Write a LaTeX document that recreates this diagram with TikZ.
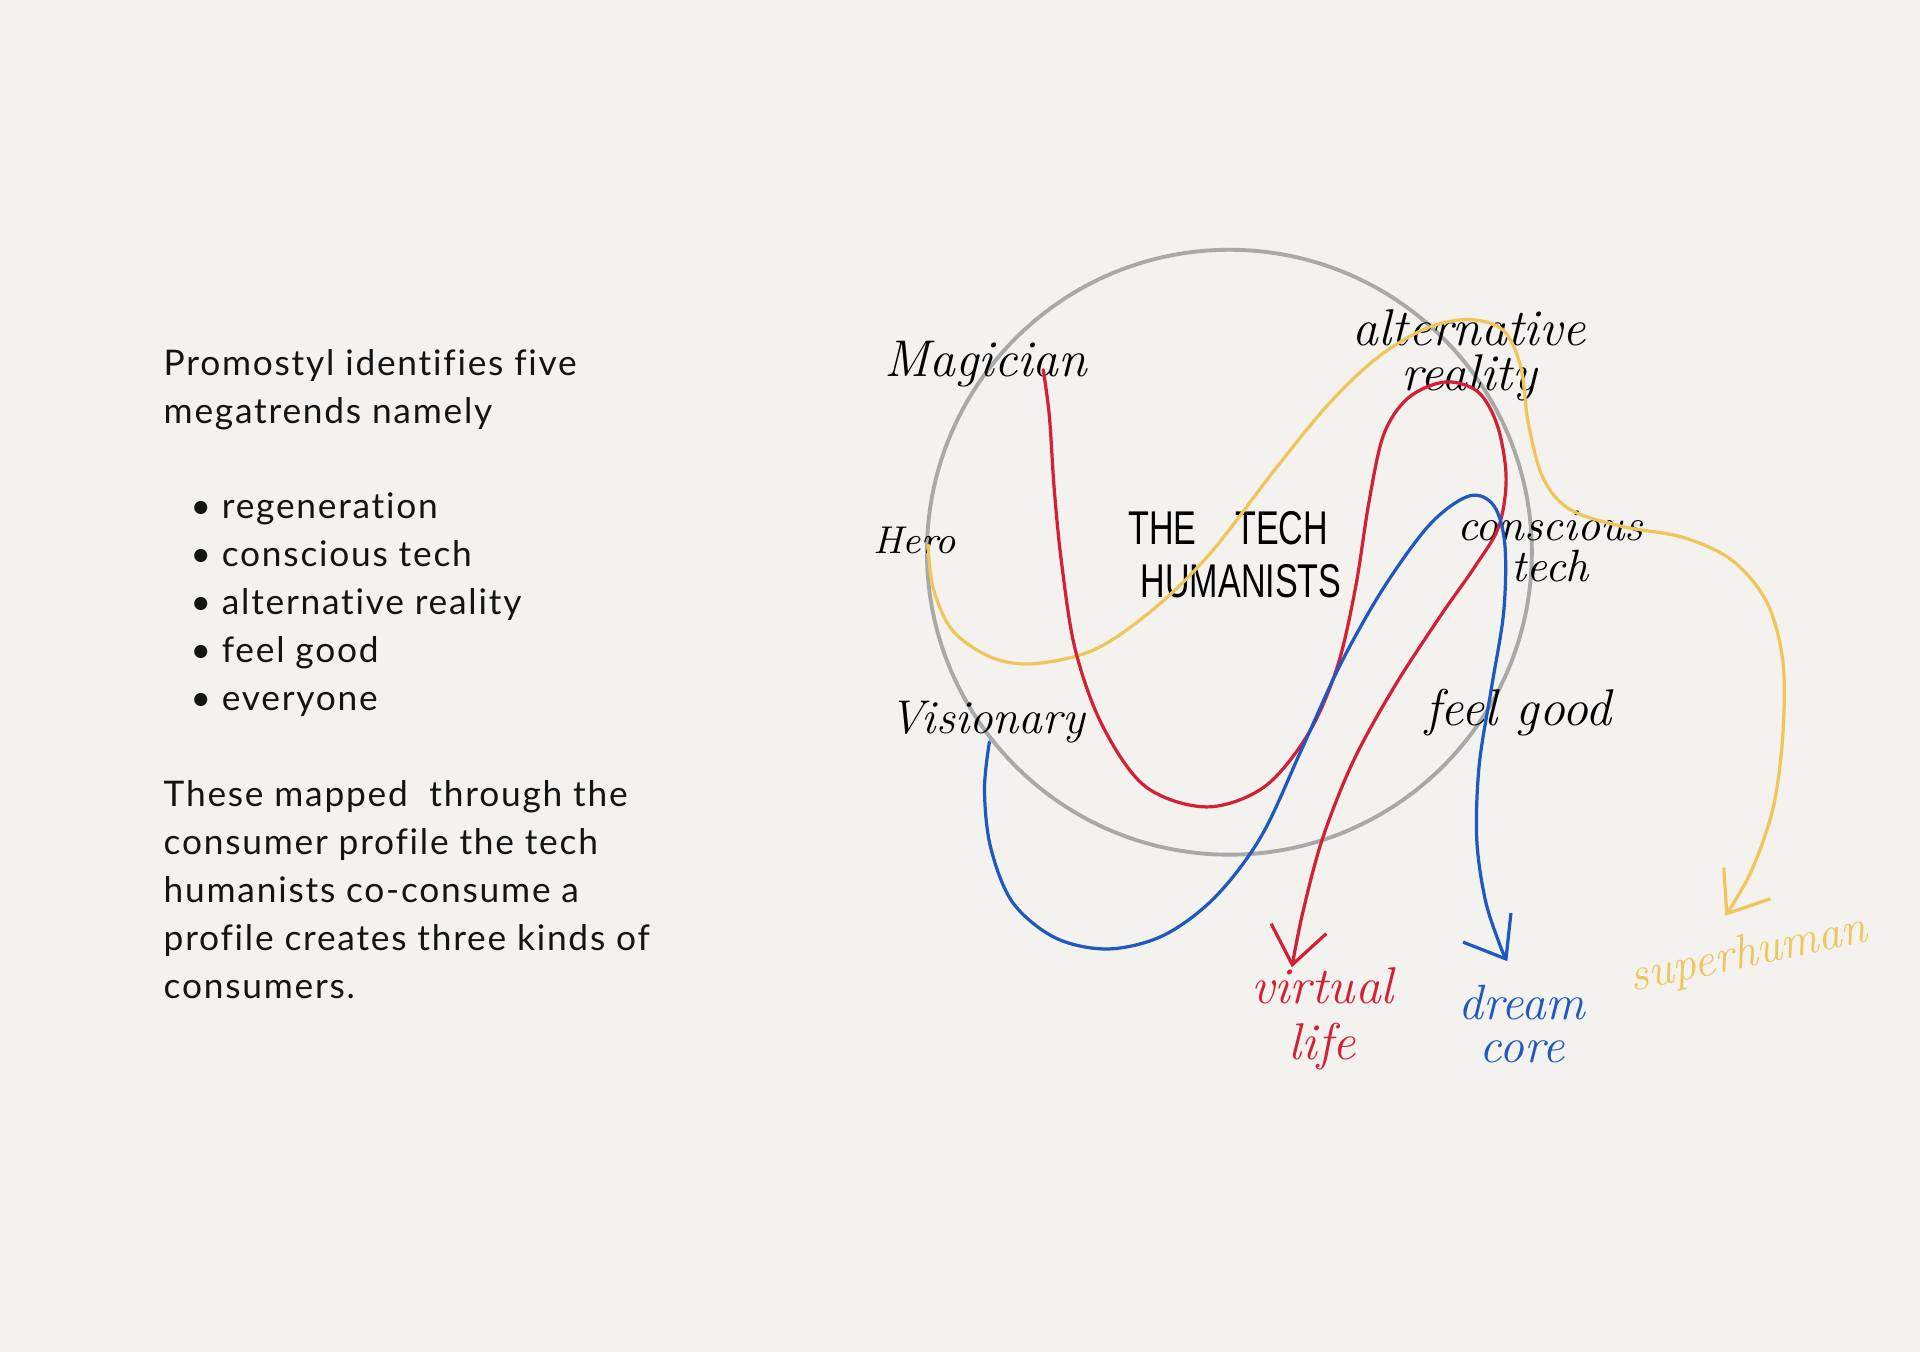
\documentclass[tikz,border=0pt]{standalone}
\usepackage{fontspec}
\newfontfamily\bodyfont[LetterSpace=5, Ligatures=NoCommon]{Lato}
\newfontfamily\capsfont[FakeStretch=0.72]{Liberation Sans}
\usepackage{xcolor}
\usetikzlibrary{arrows.meta, positioning}

\definecolor{paper}{HTML}{F3F2EE}
\definecolor{ringgray}{HTML}{A9A9A7}
\definecolor{pinred}{HTML}{D42036}
\definecolor{inkblue}{HTML}{1F58BE}
\definecolor{mustard}{HTML}{F0C65A}

\begin{document}
\begin{tikzpicture}[
  x=0.01cm, y=-0.01cm,
  body/.style={anchor=north west, align=left, inner sep=0pt, text=black!92, font=\bodyfont\fontsize{8.2}{11.1}\selectfont},
  hand/.style={inner sep=0pt, align=center, font=\itshape\fontsize{12}{10.5}\selectfont},
  caps/.style={inner sep=0pt, align=center, font=\capsfont\fontsize{11}{12.3}\selectfont},
  ring/.style={draw=ringgray, line width=0.9pt},
  stroke/.style={line width=0.75pt, line cap=round},
  tip/.style={-{Straight Barb[length=8.5pt, width=13pt]}}
]
  \fill[paper] (0,0) rectangle (1568,1104);
  \useasboundingbox (0,0) rectangle (1568,1104);

  % left text
  \node[body] (intro) at (133,285) {Promostyl identifies five\\megatrends namely};
  \node[body] (trends) at (155,402) {\textbullet\hspace{2.5pt}regeneration\\\textbullet\hspace{2.5pt}conscious tech\\\textbullet\hspace{2.5pt}alternative reality\\\textbullet\hspace{2.5pt}feel good\\\textbullet\hspace{2.5pt}everyone};
  \node[body] (mapped) at (133,637) {These mapped~ through the\\consumer profile the tech\\humanists co-consume a\\profile creates three kinds of\\consumers.};

  % the ring
  \draw[ring] (1004,451) circle (247);

  % labels round the ring
  \node[hand] (magician) at (805,297) {Magician};
  \node[hand] (altreal) at (1200,290) {alternative\\reality};
  \node[hand, font=\itshape\fontsize{9}{10}\selectfont] (hero) at (747,441) {Hero};
  \node[caps] (title) at (1003,453) {THE\hspace{9pt}TECH\\\hspace{6pt}HUMANISTS};
  \node[hand, font=\itshape\fontsize{10.5}{9.5}\selectfont] (conscious) at (1266,446) {conscious\\tech};
  \node[hand, font=\itshape\fontsize{11}{11}\selectfont] (visionary) at (806,590) {Visionary};
  \node[hand] (feelgood) at (1240,582) {feel good};

  % consumers
  \node[hand, text=pinred] (virtual) at (1080,832) {virtual\\[2.5pt]life};
  \node[hand, text=inkblue, font=\itshape\fontsize{11.5}{10}\selectfont] (dream) at (1243,836) {dream\\core};
  \node[hand, text=mustard, rotate=12, font=\itshape\fontsize{11}{11}\selectfont] (superhuman) at (1428,780) {superhuman};

  \coordinate (yellowstart) at (758,445);
  \coordinate (yellowtip) at (1409,748);
  \coordinate (redstart) at (852,302);
  \coordinate (redtip) at (1055,790);
  \coordinate (bluestart) at (808,606);
  \coordinate (bluetip) at (1231,785);

  \draw[stroke, mustard, tip] plot[smooth, tension=0.55] coordinates {(yellowstart) (762,480) (778,515) (810,537) (845,542) (895,530) (945,495) (990,450) (1040,385) (1085,330) (1125,292) (1165,268) (1200,261) (1228,270) (1242,300) (1248,345) (1260,390) (1282,416) (1325,430) (1375,439) (1415,458) (1443,492) (1456,540) (1456,600) (1448,660) (1430,712) (yellowtip)};
  \draw[stroke, pinred, tip] plot[smooth, tension=0.55] coordinates {(redstart) (857,340) (861,400) (867,460) (878,530) (900,592) (935,642) (985,659) (1032,643) (1068,600) (1092,545) (1107,480) (1118,410) (1130,355) (1150,325) (1180,312) (1207,320) (1223,348) (1230,390) (1224,430) (1205,462) (1175,505) (1138,562) (1105,622) (1080,685) (1064,745) (redtip)};
  \draw[stroke, inkblue, tip] plot[smooth, tension=0.55] coordinates {(bluestart) (804,645) (809,692) (827,737) (862,766) (905,775) (950,764) (992,733) (1030,683) (1063,612) (1095,542) (1130,480) (1168,428) (1200,405) (1220,413) (1229,445) (1228,500) (1218,562) (1208,625) (1206,685) (1213,735) (1225,772) (bluetip)};
\end{tikzpicture}
\end{document}
